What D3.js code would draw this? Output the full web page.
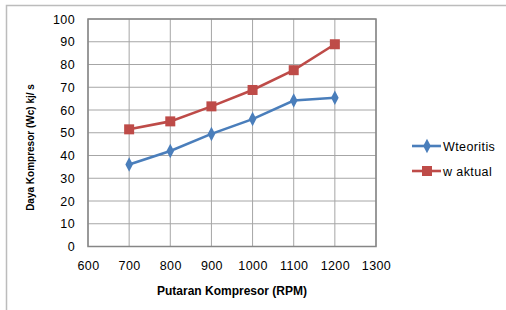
<!DOCTYPE html>
<html>
<head>
<meta charset="utf-8">
<script src="https://cdn.jsdelivr.net/npm/d3@7"></script>
<style>
  body { margin: 0; background: #fff; }
  text { font-family: "Liberation Sans", Arial, sans-serif; fill: #000; }
</style>
</head>
<body>
<div id="chart"></div>
<script>
// data
var rpm = [700, 800, 900, 1000, 1100, 1200];
var wTeoritis = [36, 42, 49.5, 56, 64.2, 65.4];
var wAktual = [51.5, 55, 61.6, 68.8, 77.5, 88.9];
var xTicks = [600, 700, 800, 900, 1000, 1100, 1200, 1300];
var yTicks = [0, 10, 20, 30, 40, 50, 60, 70, 80, 90, 100];
var seriesNames = ["Wteoritis", "w aktual"];
var seriesColors = ["#4a7ebb", "#be4b48"];

var width = 506, height = 310;
var plot = {left: 88, right: 376, top: 19, bottom: 246.5};

var svg = d3.select('#chart').append('svg')
  .attr('width', width)
  .attr('height', height);

// outer chart frame
svg.append('rect')
  .attr('x', 6.5).attr('y', 5.5)
  .attr('width', width + 10).attr('height', height + 10)
  .attr('fill', 'none')
  .attr('stroke', '#bcbcbc')
  .attr('stroke-width', 1.5);

var x = d3.scaleLinear().domain([600, 1300]).range([plot.left, plot.right]);
var y = d3.scaleLinear().domain([0, 100]).range([plot.bottom, plot.top]);

// gridlines
svg.append('g').selectAll('line.h')
  .data(yTicks).enter().append('line')
  .attr('x1', plot.left).attr('x2', plot.right)
  .attr('y1', d => y(d)).attr('y2', d => y(d))
  .attr('stroke', '#a6a6a6').attr('stroke-width', 1);

svg.append('g').selectAll('line.v')
  .data(xTicks).enter().append('line')
  .attr('y1', plot.top).attr('y2', plot.bottom)
  .attr('x1', d => x(d)).attr('x2', d => x(d))
  .attr('stroke', '#a6a6a6').attr('stroke-width', 1);

// plot border
svg.append('rect')
  .attr('x', plot.left).attr('y', plot.top)
  .attr('width', plot.right - plot.left).attr('height', plot.bottom - plot.top)
  .attr('fill', 'none').attr('stroke', '#868686').attr('stroke-width', 1.5);

// axes (labels only, lines drawn above)
var yAxis = svg.append('g')
  .attr('transform', `translate(${plot.left},0)`)
  .call(d3.axisLeft(y).tickValues(yTicks).tickSize(0).tickPadding(13));
var xAxis = svg.append('g')
  .attr('transform', `translate(0,${plot.bottom})`)
  .call(d3.axisBottom(x).tickValues(xTicks).tickSize(0).tickPadding(15).tickFormat(d3.format('d')));
[yAxis, xAxis].forEach(ax => {
  ax.select('.domain').remove();
  ax.selectAll('text')
    .style('font-family', '"Liberation Sans", Arial, sans-serif')
    .style('font-size', '12.5px')
    .style('letter-spacing', '0.4px')
    .attr('fill', '#000');
});

// axis titles
svg.append('text')
  .attr('x', 232).attr('y', 295)
  .attr('text-anchor', 'middle')
  .style('font-size', '12px').style('font-weight', 'bold')
  .text('Putaran Kompresor (RPM)');

svg.append('text')
  .attr('transform', 'translate(33.5,147.5) rotate(-90)')
  .attr('text-anchor', 'middle')
  .style('font-size', '10px').style('font-weight', 'bold')
  .text('Daya Kompresor (Wc) kj/ s');

// series
var line = d3.line().x((d, i) => x(rpm[i])).y(d => y(d));
var diamond = d3.symbol().type(d3.symbolDiamond).size(50);

function drawSeries(values, color, kind) {
  svg.append('path')
    .datum(values)
    .attr('d', line)
    .attr('fill', 'none')
    .attr('stroke', color)
    .attr('stroke-width', 2.6);
  var g = svg.append('g');
  if (kind == 'diamond') {
    g.selectAll('path').data(values).enter().append('path')
      .attr('d', diamond)
      .attr('transform', (d, i) => `translate(${x(rpm[i])},${y(d)}) scale(1,1.1)`)
      .attr('fill', color);
  } else {
    g.selectAll('rect').data(values).enter().append('rect')
      .attr('x', (d, i) => x(rpm[i]) - 5)
      .attr('y', d => y(d) - 5)
      .attr('width', 10).attr('height', 10)
      .attr('fill', color);
  }
}
drawSeries(wTeoritis, seriesColors[0], 'diamond');
drawSeries(wAktual, seriesColors[1], 'square');

// legend
var legend = svg.append('g').attr('transform', 'translate(412,146)');
seriesNames.forEach((name, i) => {
  var row = legend.append('g').attr('transform', `translate(0,${i * 25})`);
  row.append('line')
    .attr('x1', 0).attr('x2', 29)
    .attr('stroke', seriesColors[i]).attr('stroke-width', 2.6);
  if (i == 0) {
    row.append('path').attr('d', diamond)
      .attr('transform', 'translate(15,0) scale(1,1.1)')
      .attr('fill', seriesColors[i]);
  } else {
    row.append('rect').attr('x', 10).attr('y', -5)
      .attr('width', 10).attr('height', 10)
      .attr('fill', seriesColors[i]);
  }
  row.append('text')
    .attr('x', 31).attr('y', 4.5)
    .style('font-size', '12.5px')
    .style('letter-spacing', '0.4px')
    .text(name);
});
</script>
</body>
</html>
